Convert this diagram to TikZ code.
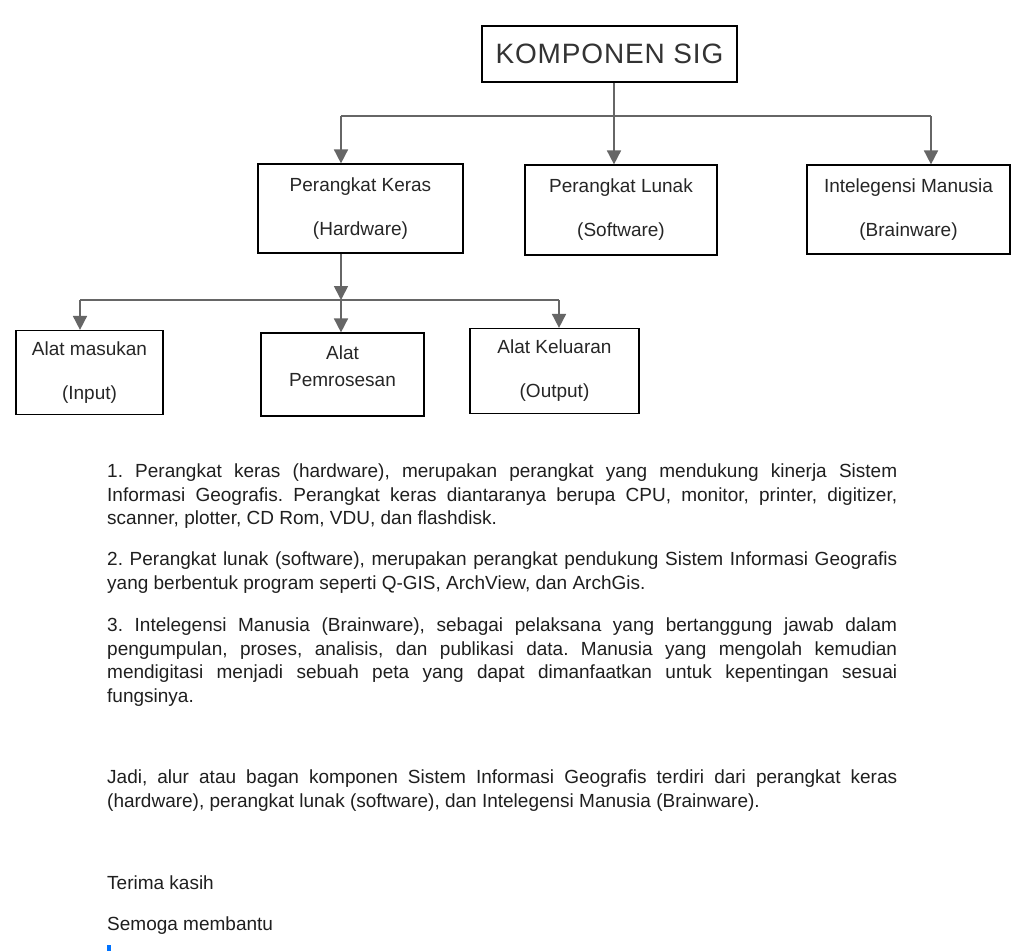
\documentclass[tikz,border=0pt]{standalone}
\usepackage{fontspec}
\setmainfont{Liberation Sans}
\usetikzlibrary{arrows.meta}
\frenchspacing

\begin{document}
\begin{tikzpicture}[
  x=1pt,y=-1pt,
  box/.style={draw=black,line width=1.2pt,inner sep=0pt,align=center,text=black!85,
    font=\fontsize{19}{44}\selectfont},
  link/.style={draw=black!60,line width=1.7pt},
  arr/.style={link,-{Triangle[length=14pt,width=14pt]}},
  para/.style={anchor=north west,inner sep=0pt,text width=790pt,align=justify,text=black!88,
    font=\fontsize{19}{23.5}\selectfont},
]
\useasboundingbox[fill=white] (0,0) rectangle (1023,951);
% title box
\node[box,minimum width=255pt,minimum height=56pt,text=black!80,
  font=\fontsize{28}{30}\selectfont\addfontfeatures{LetterSpace=3}] (sig) at (609.5,54) {KOMPONEN SIG};
% component boxes
\foreach \name/\cx/\cy/\w/\h/\one/\two in {
  hard/360.5/208.5/205/89/Perangkat Keras/(Hardware),
  soft/621/210/192/90/Perangkat Lunak/(Software),
  brain/908.5/209.5/203/89/Intelegensi Manusia/(Brainware),
  input/89.5/372.5/147/84/Alat masukan/(Input),
  output/554.5/371/169/85/Alat Keluaran/(Output)}{
  \node[box,minimum width=\w pt,minimum height=\h pt] (\name) at (\cx,\cy) {\one\\\two};
}
\node[box,minimum width=163pt,minimum height=83pt,
  label={[yshift=8pt,align=center,text=black!85,font=\fontsize{19}{27}\selectfont]center:Alat\\Pemrosesan}]
  (proc) at (342.5,374.5) {};
% connectors
\coordinate (t1) at (341,116);
\coordinate (t2) at (614,116);
\coordinate (t3) at (931,116);
\draw[link] (t1) -- (t3);
\draw[arr] (t2 |- sig.south) -- (t2 |- soft.north);
\draw[arr] (t1) -- (t1 |- hard.north);
\draw[arr] (t3) -- (t3 |- brain.north);
\coordinate (b1) at (80,300);
\coordinate (b2) at (341,300);
\coordinate (b3) at (559,300);
\draw[link] (b1) -- (b3);
\draw[arr] (b2 |- hard.south) -- (b2);
\draw[arr] (b1) -- (b1 |- input.north);
\draw[arr] (b2) -- (b2 |- proc.north);
\draw[arr] (b3) -- (b3 |- output.north);
% explanation
\node[para] (p1) at (107,464) {1. Perangkat keras (hardware), merupakan perangkat yang mendukung kinerja Sistem\linebreak
  Informasi Geografis. Perangkat keras diantaranya berupa CPU, monitor, printer, digitizer,\linebreak
  scanner, plotter, CD Rom, VDU, dan flashdisk.};
\node[para] (p2) at (107,552) {2. Perangkat lunak (software), merupakan perangkat pendukung Sistem Informasi Geografis\linebreak
  yang berbentuk program seperti Q-GIS, ArchView, dan ArchGis.};
\node[para] (p3) at (107,618) {3. Intelegensi Manusia (Brainware), sebagai pelaksana yang bertanggung jawab dalam\linebreak
  pengumpulan, proses, analisis, dan publikasi data. Manusia yang mengolah kemudian\linebreak
  mendigitasi menjadi sebuah peta yang dapat dimanfaatkan untuk kepentingan sesuai\linebreak
  fungsinya.};
\node[para] (p4) at (107,770) {Jadi, alur atau bagan komponen Sistem Informasi Geografis terdiri dari perangkat keras\linebreak
  (hardware), perangkat lunak (software), dan Intelegensi Manusia (Brainware).};
\node[para,text width=300pt] (thanks) at (107,876) {Terima kasih};
\node[para,text width=300pt] (wish) at (107,917) {Semoga membantu};
\fill[blue!55!cyan] (107,945) rectangle (111,951);
\end{tikzpicture}
\end{document}
